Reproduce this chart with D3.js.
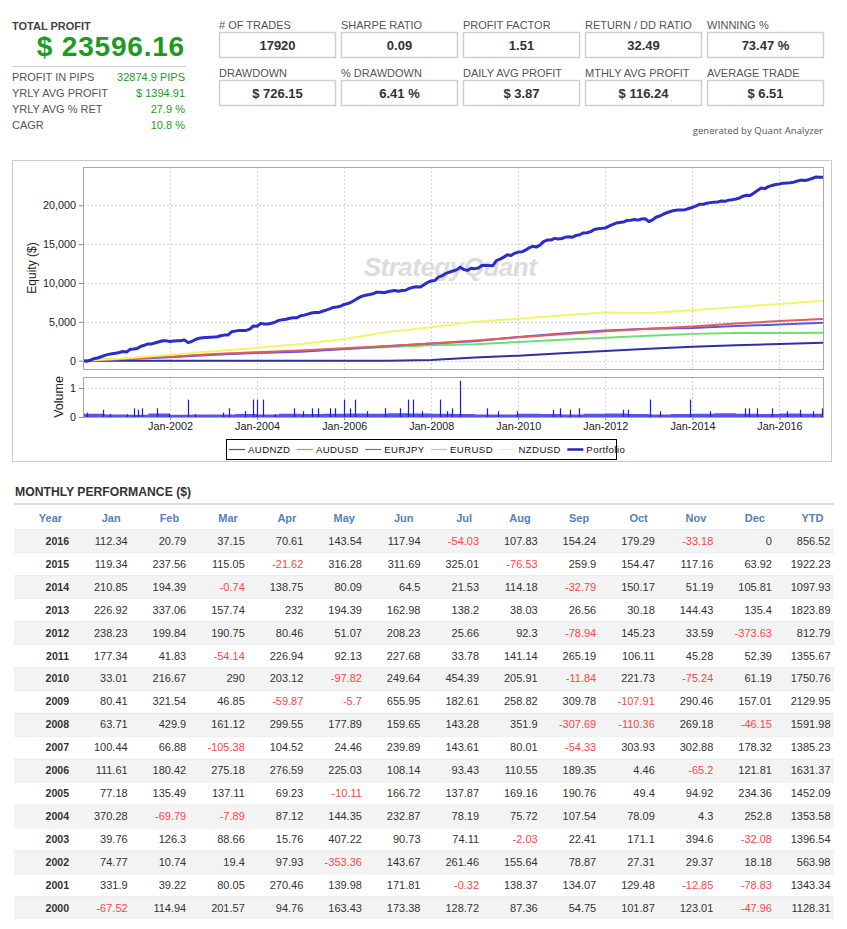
<!DOCTYPE html>
<html>
<head>
<meta charset="utf-8">
<script src="https://cdn.jsdelivr.net/npm/d3@7"></script>
<style>
  body { margin: 0; background: #fff; }
  text { font-family: "Liberation Sans", Arial, sans-serif; }
</style>
</head>
<body>
<svg id="page" width="847" height="929"></svg>
<script>
// ---- data ----
const summaryLabels = ["PROFIT IN PIPS", "YRLY AVG PROFIT", "YRLY AVG % RET", "CAGR"];
const summaryValues = ["32874.9 PIPS", "$ 1394.91", "27.9 %", "10.8 %"];
const statLabels = [
  ["# OF TRADES", "SHARPE RATIO", "PROFIT FACTOR", "RETURN / DD RATIO", "WINNING %"],
  ["DRAWDOWN", "% DRAWDOWN", "DAILY AVG PROFIT", "MTHLY AVG PROFIT", "AVERAGE TRADE"]
];
const statValues = [
  ["17920", "0.09", "1.51", "32.49", "73.47 %"],
  ["$ 726.15", "6.41 %", "$ 3.87", "$ 116.24", "$ 6.51"]
];

const monthNames = ["Jan", "Feb", "Mar", "Apr", "May", "Jun", "Jul", "Aug", "Sep", "Oct", "Nov", "Dec"];
const tableYears = [2016, 2015, 2014, 2013, 2012, 2011, 2010, 2009, 2008, 2007, 2006, 2005, 2004, 2003, 2002, 2001, 2000];
const monthlyReturns = [
  [112.34, 20.79, 37.15, 70.61, 143.54, 117.94, -54.03, 107.83, 154.24, 179.29, -33.18, 0],
  [119.34, 237.56, 115.05, -21.62, 316.28, 311.69, 325.01, -76.53, 259.9, 154.47, 117.16, 63.92],
  [210.85, 194.39, -0.74, 138.75, 80.09, 64.5, 21.53, 114.18, -32.79, 150.17, 51.19, 105.81],
  [226.92, 337.06, 157.74, 232, 194.39, 162.98, 138.2, 38.03, 26.56, 30.18, 144.43, 135.4],
  [238.23, 199.84, 190.75, 80.46, 51.07, 208.23, 25.66, 92.3, -78.94, 145.23, 33.59, -373.63],
  [177.34, 41.83, -54.14, 226.94, 92.13, 227.68, 33.78, 141.14, 265.19, 106.11, 45.28, 52.39],
  [33.01, 216.67, 290, 203.12, -97.82, 249.64, 454.39, 205.91, -11.84, 221.73, -75.24, 61.19],
  [80.41, 321.54, 46.85, -59.87, -5.7, 655.95, 182.61, 258.82, 309.78, -107.91, 290.46, 157.01],
  [63.71, 429.9, 161.12, 299.55, 177.89, 159.65, 143.28, 351.9, -307.69, -110.36, 269.18, -46.15],
  [100.44, 66.88, -105.38, 104.52, 24.46, 239.89, 143.61, 80.01, -54.33, 303.93, 302.88, 178.32],
  [111.61, 180.42, 275.18, 276.59, 225.03, 108.14, 93.43, 110.55, 189.35, 4.46, -65.2, 121.81],
  [77.18, 135.49, 137.11, 69.23, -10.11, 166.72, 137.87, 169.16, 190.76, 49.4, 94.92, 234.36],
  [370.28, -69.79, -7.89, 87.12, 144.35, 232.87, 78.19, 75.72, 107.54, 78.09, 4.3, 252.8],
  [39.76, 126.3, 88.66, 15.76, 407.22, 90.73, 74.11, -2.03, 22.41, 171.1, 394.6, -32.08],
  [74.77, 10.74, 19.4, 97.93, -353.36, 143.67, 261.46, 155.64, 78.87, 27.31, 29.37, 18.18],
  [331.9, 39.22, 80.05, 270.46, 139.98, 171.81, -0.32, 138.37, 134.07, 129.48, -12.85, -78.83],
  [-67.52, 114.94, 201.57, 94.76, 163.43, 173.38, 128.72, 87.36, 54.75, 101.87, 123.01, -47.96]
];
const ytdTotals = [856.52, 1922.23, 1097.93, 1823.89, 812.79, 1355.67, 1750.76, 2129.95, 1591.98, 1385.23, 1631.37, 1452.09, 1353.58, 1396.54, 563.98, 1343.34, 1128.31];

// equity of each pair, read at each January (2000 .. 2017)
const knotYears = [2000, 2001, 2002, 2003, 2004, 2005, 2006, 2007, 2008, 2009, 2010, 2011, 2012, 2013, 2014, 2015, 2016, 2017];
const audnzd = [0, 0, 0, 0, 0, 0, 0, 0, 100, 400, 650, 950, 1250, 1550, 1800, 2000, 2150, 2300];
const audusd = [0, 250, 500, 850, 1100, 1300, 1600, 1900, 2200, 2600, 3000, 3400, 3800, 4100, 4400, 4800, 5100, 5380];
const eurjpy = [0, 220, 450, 750, 1000, 1150, 1500, 1850, 2200, 2500, 3050, 3500, 3900, 4100, 4200, 4450, 4650, 4870];
const eurusd = [0, 250, 500, 800, 1050, 1250, 1500, 1750, 2000, 2100, 2400, 2700, 2950, 3200, 3450, 3550, 3550, 3600];
const nzdusd = [0, 300, 750, 1200, 1650, 2150, 2800, 3700, 4300, 5000, 5400, 5800, 6200, 6150, 6500, 6900, 7300, 7700];

const pairNames = ["AUDNZD", "AUDUSD", "EURJPY", "EURUSD", "NZDUSD", "Portfolio"];

// volume spikes [decimal year, volume]
const volumeSpikes = [
  [2000.09, 0.15], [2000.46, 0.25], [2000.62, 0.1], [2001.01, 0.1], [2001.17, 0.3], [2001.26, 0.25],
  [2001.36, 0.3], [2001.70, 0.3], [2001.98, 0.1], [2002.41, 0.6], [2002.57, 0.1], [2003.22, 0.15],
  [2003.36, 0.3], [2003.72, 0.2], [2003.91, 0.6], [2004.00, 0.6], [2004.14, 0.6], [2004.41, 0.1],
  [2004.85, 0.3], [2005.06, 0.2], [2005.26, 0.3], [2005.40, 0.3], [2005.68, 0.3], [2005.79, 0.3],
  [2006.00, 0.6], [2006.14, 0.3], [2006.25, 0.6], [2006.53, 0.2], [2006.94, 0.3], [2007.29, 0.3],
  [2007.47, 0.6], [2007.59, 0.6], [2007.79, 0.2], [2008.21, 0.6], [2008.37, 0.2], [2008.48, 0.3],
  [2008.67, 1.25], [2009.29, 0.3], [2009.54, 0.2], [2009.98, 0.2], [2010.80, 0.25], [2010.97, 0.3],
  [2011.20, 0.25], [2011.40, 0.3], [2012.41, 0.25], [2012.53, 0.25], [2013.03, 0.6], [2013.26, 0.2],
  [2013.95, 0.6], [2014.41, 0.2], [2015.22, 0.3], [2015.29, 0.3], [2015.49, 0.3], [2015.84, 0.3],
  [2016.18, 0.2], [2016.48, 0.25], [2016.78, 0.2], [2016.99, 0.3]
];
// low background volume, per half year from 2000.0
const volumeLow = [0.11, 0.09, 0.08, 0.12, 0.08, 0.09, 0.09, 0.1, 0.09, 0.11, 0.1, 0.11, 0.12, 0.11, 0.13, 0.12, 0.11,
  0.1, 0.09, 0.09, 0.11, 0.1, 0.09, 0.11, 0.12, 0.1, 0.09, 0.1, 0.11, 0.13, 0.11, 0.1, 0.12, 0.11];

// ---- helpers ----
const svg = d3.select("#page");
const profitGreen = "#1e9a1e";

function decDate(y) {
  const yr = Math.floor(y);
  return new Date(yr, 0, 1 + Math.round((y - yr) * 365));
}

// ---- header: total profit ----
svg.append("text").attr("x", 12).attr("y", 29.5).text("TOTAL PROFIT")
  .attr("font-size", 11).attr("font-weight", "bold").attr("fill", "#444");
svg.append("text").attr("x", 185).attr("y", 56).attr("text-anchor", "end").text("$ 23596.16")
  .attr("font-size", 28).attr("font-weight", "bold").attr("letter-spacing", "0.8").attr("fill", profitGreen);
svg.append("line").attr("x1", 12).attr("x2", 186).attr("y1", 66.5).attr("y2", 66.5)
  .attr("stroke", "#d0d0d0");

summaryLabels.forEach((lab, i) => {
  const y = 81 + i * 16;
  svg.append("text").attr("x", 12).attr("y", y).text(lab).attr("font-size", 11).attr("fill", "#555");
  svg.append("text").attr("x", 185).attr("y", y).attr("text-anchor", "end").text(summaryValues[i])
    .attr("font-size", 11).attr("fill", profitGreen);
});

// ---- stat boxes ----
statLabels.forEach((row, r) => {
  const top = r === 0 ? 32 : 80;
  row.forEach((lab, c) => {
    const x = 219 + c * 122;
    svg.append("text").attr("x", x).attr("y", top - 3).text(lab).attr("font-size", 11).attr("fill", "#555");
    svg.append("rect").attr("x", x + 0.5).attr("y", top + 0.5).attr("width", 116).attr("height", 25)
      .attr("fill", "#fff").attr("stroke", "#cfcfcf").attr("stroke-width", 1.5);
    svg.append("text").attr("x", x + 58.5).attr("y", top + 17.5).attr("text-anchor", "middle")
      .text(statValues[r][c]).attr("font-size", 13).attr("font-weight", "bold").attr("fill", "#333");
  });
});
svg.append("text").attr("x", 823).attr("y", 133.5).attr("text-anchor", "end")
  .text("generated by Quant Analyzer").attr("font-size", 9.6).attr("fill", "#555")
  .style("font-family", "'Open Sans', sans-serif");

// ---- chart ----
svg.append("rect").attr("x", 12.5).attr("y", 160.5).attr("width", 819).attr("height", 301)
  .attr("fill", "#fff").attr("stroke", "#cccccc");

const plotL = 83, plotR = 823;
const x = d3.scaleTime().domain([new Date(2000, 0, 1), new Date(2017, 0, 1)]).range([plotL, plotR]);
const y = d3.scaleLinear().domain([-1200, 24930]).range([370, 167]);
const yv = d3.scaleLinear().domain([0, 1.38]).range([417, 377]);
const xTicks = d3.range(2002, 2017, 2).map(v => new Date(v, 0, 1));

svg.append("defs").append("clipPath").attr("id", "clipMain")
  .append("rect").attr("x", plotL).attr("y", 167).attr("width", plotR - plotL).attr("height", 203);

// grids
const gridMain = svg.append("g");
gridMain.selectAll("line.h").data([0, 5000, 10000, 15000, 20000]).join("line")
  .attr("x1", plotL).attr("x2", plotR).attr("y1", d => Math.round(y(d)) + 0.5).attr("y2", d => Math.round(y(d)) + 0.5)
  .attr("stroke", "#d6d6d6").attr("stroke-dasharray", "2,2");
gridMain.selectAll("line.v").data(xTicks).join("line")
  .attr("x1", d => Math.round(x(d)) + 0.5).attr("x2", d => Math.round(x(d)) + 0.5).attr("y1", 167).attr("y2", 370)
  .attr("stroke", "#d6d6d6").attr("stroke-dasharray", "2,2");
const gridVol = svg.append("g");
gridVol.selectAll("line.v").data(xTicks).join("line")
  .attr("x1", d => Math.round(x(d)) + 0.5).attr("x2", d => Math.round(x(d)) + 0.5).attr("y1", 377).attr("y2", 417)
  .attr("stroke", "#d6d6d6").attr("stroke-dasharray", "2,2");
gridVol.append("line").attr("x1", plotL).attr("x2", plotR).attr("y1", Math.round(yv(1)) + 0.5).attr("y2", Math.round(yv(1)) + 0.5)
  .attr("stroke", "#d6d6d6").attr("stroke-dasharray", "2,2");

// watermark
svg.append("text").attr("x", 450).attr("y", 276).attr("text-anchor", "middle")
  .text("StrategyQuant").attr("font-size", 26).attr("font-weight", "bold").attr("font-style", "italic")
  .attr("fill", "#dcdcdc").attr("letter-spacing", "-0.5");

// pair lines
const pairSeries = [
  { name: "AUDNZD", vals: audnzd, color: "#2f2fa8", w: 2 },
  { name: "EURUSD", vals: eurusd, color: "#6ee06e", w: 2 },
  { name: "EURJPY", vals: eurjpy, color: "#5858e0", w: 2 },
  { name: "AUDUSD", vals: audusd, color: "#e25c5c", w: 2 },
  { name: "NZDUSD", vals: nzdusd, color: "#f4f46a", w: 2 }
];
const line = d3.line().x(d => x(d[0])).y(d => y(d[1]));
const lines = svg.append("g").attr("clip-path", "url(#clipMain)");
pairSeries.forEach(s => {
  lines.append("path").datum(knotYears.map((k, i) => [new Date(k, 0, 1), s.vals[i]]))
    .attr("d", line).attr("fill", "none").attr("stroke", s.color).attr("stroke-width", s.w);
});

// portfolio = cumulative monthly profit
const portfolio = [[new Date(2000, 0, 1), 0]];
let cum = 0;
for (let r = tableYears.length - 1; r >= 0; r--) {
  monthlyReturns[r].forEach((v, m) => {
    cum += v;
    portfolio.push([new Date(tableYears[r], m + 1, 1), cum]);
  });
}
lines.append("path").datum(portfolio).attr("d", line).attr("fill", "none")
  .attr("stroke", "#2c2cc8").attr("stroke-width", 3).attr("stroke-linejoin", "round");

// volume
const volG = svg.append("g");
const lowData = volumeLow.map((v, i) => [decDate(2000 + i * 0.5), v]);
lowData.push([new Date(2017, 0, 1), volumeLow[volumeLow.length - 1]]);
volG.append("path").datum(lowData)
  .attr("d", d3.area().curve(d3.curveStepAfter).x(d => x(d[0])).y0(yv(0)).y1(d => yv(d[1])))
  .attr("fill", "#2a2ae0").attr("opacity", 0.8);
volG.selectAll("line.s").data(volumeSpikes).join("line")
  .attr("x1", d => Math.round(x(decDate(d[0]))) + 0.5).attr("x2", d => Math.round(x(decDate(d[0]))) + 0.5)
  .attr("y1", yv(0)).attr("y2", d => yv(d[1])).attr("stroke", "#1c1ce0").attr("stroke-width", 1.2);

// frames
svg.append("rect").attr("x", plotL + 0.5).attr("y", 167.5).attr("width", plotR - plotL).attr("height", 202)
  .attr("fill", "none").attr("stroke", "#a8a8a8");
svg.append("rect").attr("x", plotL + 0.5).attr("y", 377.5).attr("width", plotR - plotL).attr("height", 40)
  .attr("fill", "none").attr("stroke", "#a8a8a8");

// axes
const yAxis = svg.append("g").attr("transform", `translate(${plotL},0)`)
  .call(d3.axisLeft(y).tickValues([0, 5000, 10000, 15000, 20000]).tickFormat(d3.format(",")).tickSize(4).tickPadding(3));
yAxis.select(".domain").remove();
const vAxis = svg.append("g").attr("transform", `translate(${plotL},0)`)
  .call(d3.axisLeft(yv).tickValues([0, 1]).tickFormat(d3.format("d")).tickSize(4).tickPadding(3));
vAxis.select(".domain").remove();
const xAxis = svg.append("g").attr("transform", "translate(0,417)")
  .call(d3.axisBottom(x).tickValues(xTicks).tickFormat(d3.timeFormat("%b-%Y")).tickSize(3).tickPadding(2));
xAxis.select(".domain").remove();
[yAxis, vAxis, xAxis].forEach(g => {
  g.selectAll("text").attr("font-size", 10.8).attr("fill", "#222").style("font-family", "'Liberation Sans', Arial, sans-serif");
  g.selectAll("line").attr("stroke", "#888");
});

svg.append("text").attr("transform", "translate(36,268) rotate(-90)").attr("text-anchor", "middle")
  .text("Equity ($)").attr("font-size", 12).attr("fill", "#222");
svg.append("text").attr("transform", "translate(63,397) rotate(-90)").attr("text-anchor", "middle")
  .text("Volume").attr("font-size", 12.5).attr("fill", "#222");

// legend
const legendColors = ["#4a4ab0", "#f07a7a", "#6c6ce6", "#8de88d", "#f6ee9a", "#2323c0"];
const legend = svg.append("g");
legend.append("rect").attr("x", 226.5).attr("y", 439.5).attr("width", 390).attr("height", 20)
  .attr("fill", "#fff").attr("stroke", "#000");
let lx = 229;
pairNames.forEach((n, i) => {
  legend.append("line").attr("x1", lx).attr("x2", lx + 16).attr("y1", 449.5).attr("y2", 449.5)
    .attr("stroke", legendColors[i]).attr("stroke-width", i === 5 ? 2.5 : 1.2);
  const t = legend.append("text").attr("x", lx + 19).attr("y", 453).text(n)
    .attr("font-size", 9.6).attr("letter-spacing", "0.4").attr("fill", "#111");
  lx += 19 + t.node().getComputedTextLength() + 4 + 2.5;
});

// ---- monthly performance table ----
svg.append("text").attr("x", 15).attr("y", 495.5).text("MONTHLY PERFORMANCE ($)")
  .attr("font-size", 12.2).attr("font-weight", "bold").attr("fill", "#333");
svg.append("line").attr("x1", 14).attr("x2", 834).attr("y1", 504).attr("y2", 504)
  .attr("stroke", "#dddddd").attr("stroke-width", 2);

const columns = ["Year", ...monthNames, "YTD"];
const col = d3.scaleBand().domain(columns).range([14, 834]);
const rowY = d3.scaleBand().domain(tableYears).range([529.3, 529.3 + 22.94 * tableYears.length]);

svg.append("g").selectAll("text").data(columns).join("text")
  .attr("x", d => col(d) + col.bandwidth() - 10.5).attr("y", 522).attr("text-anchor", "end")
  .text(d => d).attr("font-size", 11).attr("font-weight", "bold").attr("fill", "#5580bd");

const rows = svg.append("g").selectAll("g").data(tableYears).join("g")
  .attr("transform", d => `translate(0,${rowY(d)})`);
rows.append("rect").attr("x", 14).attr("width", 820).attr("height", rowY.bandwidth())
  .attr("fill", (d, i) => i % 2 === 0 ? "#f3f3f3" : "#fff");
rows.append("line").attr("x1", 14).attr("x2", 834).attr("y1", 0.5).attr("y2", 0.5).attr("stroke", "#ebebeb");
rows.each(function (yr, i) {
  const g = d3.select(this);
  const cells = [String(yr), ...monthlyReturns[i].map(String), String(ytdTotals[i])];
  const vals = [null, ...monthlyReturns[i], ytdTotals[i]];
  g.selectAll("text").data(cells).join("text")
    .attr("x", (d, c) => col(columns[c]) + col.bandwidth() - 3.5)
    .attr("y", 15.5).attr("text-anchor", "end").text(d => d)
    .attr("font-size", (d, c) => c === 0 ? 10.6 : 11)
    .attr("font-weight", (d, c) => c === 0 ? "bold" : "normal")
    .attr("fill", (d, c) => vals[c] !== null && vals[c] < 0 ? "#ff4545" : "#333");
});
</script>
</body>
</html>
